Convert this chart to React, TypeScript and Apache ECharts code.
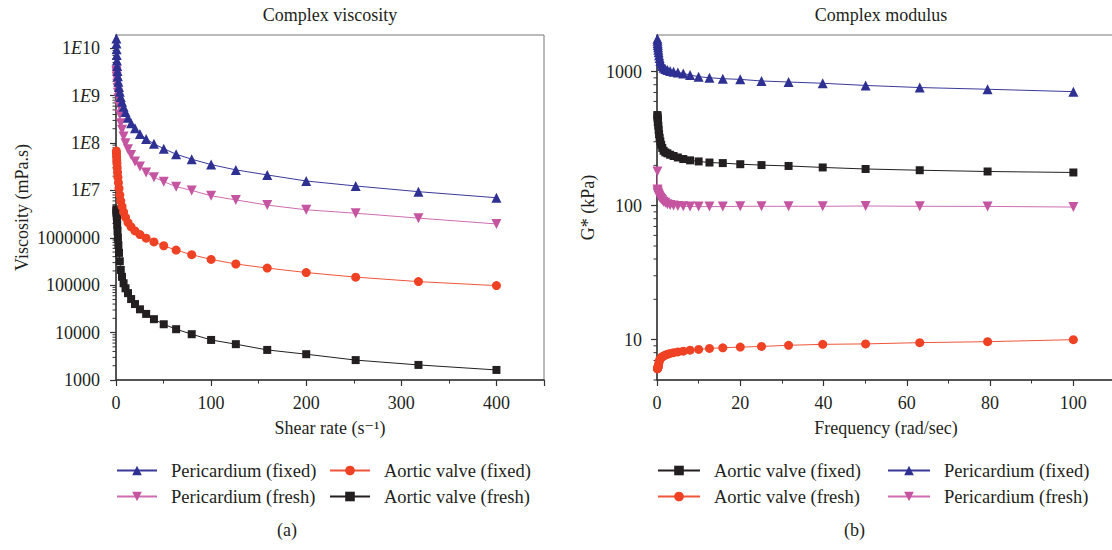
import React, { useEffect, useRef } from 'react';
import * as echarts from 'echarts';

// ---------- data ----------
const shearRate = [0.4, 0.5, 0.63, 0.8, 1, 1.26, 1.59, 2, 2.52, 3.17, 4, 5.02, 6.32, 7.96, 10, 12.6, 15.9, 20, 25.2, 31.7, 39.9, 50.2, 63.2, 79.6, 100, 126, 159, 200, 252, 318, 400];
const viscPeriFixed = [1.6e10, 1.25e10, 9.5e9, 7.2e9, 5.5e9, 4.2e9, 3.3e9, 2.55e9, 1.95e9, 1.52e9, 1.2e9, 9.4e8, 7.4e8, 5.8e8, 4.5e8, 3.4e8, 2.6e8, 2.04e8, 1.55e8, 1.22e8, 9.6e7, 7.6e7, 5.8e7, 4.55e7, 3.5e7, 2.71e7, 2.12e7, 1.58e7, 1.24e7, 9.4e6, 7.0e6];
const viscPeriFresh = [3.4e9, 3.1e9, 2.8e9, 2.5e9, 2.2e9, 1.8e9, 1.45e9, 1.15e9, 8.8e8, 6.2e8, 4.0e8, 2.6e8, 1.9e8, 1.37e8, 9.9e7, 7.4e7, 5.6e7, 4.05e7, 3.2e7, 2.4e7, 1.9e7, 1.53e7, 1.2e7, 1.0e7, 7.7e6, 6.3e6, 4.9e6, 3.9e6, 3.3e6, 2.6e6, 1.96e6];
const viscAorticFixed = [6.8e7, 6.0e7, 5.2e7, 4.4e7, 3.7e7, 3.0e7, 2.4e7, 1.9e7, 1.45e7, 1.1e7, 8.0e6, 6.0e6, 4.6e6, 3.5e6, 2.7e6, 2.1e6, 1.7e6, 1.4e6, 1.17e6, 9.8e5, 8.2e5, 6.8e5, 5.5e5, 4.4e5, 3.5e5, 2.8e5, 2.3e5, 1.85e5, 1.48e5, 1.19e5, 9.8e4];
const viscAorticFresh = [4.0e6, 3.7e6, 3.3e6, 2.9e6, 2.4e6, 1.9e6, 1.4e6, 1.0e6, 7.0e5, 4.8e5, 3.2e5, 2.1e5, 1.5e5, 1.1e5, 8.6e4, 6.8e4, 5.1e4, 4.0e4, 3.1e4, 2.48e4, 1.92e4, 1.5e4, 1.18e4, 9250, 7000, 5700, 4310, 3500, 2630, 2080, 1630];

const frequency = [0.1, 0.126, 0.158, 0.2, 0.251, 0.316, 0.398, 0.501, 0.631, 0.794, 1, 1.26, 1.58, 2, 2.51, 3.16, 3.98, 5.01, 6.31, 7.94, 10, 12.6, 15.8, 20, 25.1, 31.6, 39.8, 50.1, 63.1, 79.4, 100];
const modAorticFixed = [475, 462, 448, 435, 420, 395, 368, 342, 321, 302, 285, 270, 257, 250, 246, 240, 235, 229, 223, 218, 214, 210, 208, 204, 201, 198, 193, 188, 184, 180, 177];
const modPeriFixed = [1760, 1700, 1640, 1580, 1520, 1460, 1400, 1330, 1265, 1200, 1145, 1105, 1072, 1050, 1030, 1012, 1000, 988, 970, 945, 918, 902, 887, 877, 853, 838, 820, 790, 762, 740, 710];
const modAorticFresh = [6.05, 6.1, 6.15, 6.2, 6.25, 6.3, 6.55, 6.8, 7.05, 7.2, 7.33, 7.46, 7.54, 7.67, 7.77, 7.9, 8.0, 8.1, 8.2, 8.35, 8.45, 8.6, 8.7, 8.8, 8.9, 9.08, 9.23, 9.3, 9.5, 9.66, 10.0];
const modPeriFresh = [180, 132, 128, 125, 123, 122, 120, 118, 116, 114, 112, 110, 107, 105, 102.5, 101.3, 100.5, 99.5, 99, 98.5, 98.5, 98.5, 98.5, 99, 99, 99, 99, 99.5, 99, 98.8, 97.7];

// log-axis minor tick positions
const minorMantissas = [2, 3, 4, 5, 6, 7, 8, 9];
const viscDecades = [1e3, 1e4, 1e5, 1e6, 1e7, 1e8, 1e9];
const modMinorTicks = [5, 6, 7, 8, 9, 20, 30, 40, 50, 60, 70, 80, 90, 200, 300, 400, 500, 600, 700, 800, 900];

const BLUE = '#2e3192';
const BLUE_LINE = '#3a3a9a';
const PINK = '#c554a1';
const PINK_LINE = '#cf6cb0';
const RED = '#ef4123';
const RED_LINE = '#f0553a';
const INK = '#231f20';
const AXIS = '#333333';
const SERIF = '"Liberation Serif", "Times New Roman", "DejaVu Serif", serif';
const TICK_FS = 18;
const NAME_FS = 18;
const LEGEND_FS = 18.5;

function lineSeries(name: string, xs: number[], ys: number[], color: string, lineColor: string, symbol: string, size: number, rotate: number, idx: number) {
  return {
    type: 'line',
    name,
    xAxisIndex: idx,
    yAxisIndex: idx,
    data: xs.map((x, i) => [x, ys[i]]),
    symbol,
    symbolSize: size,
    symbolRotate: rotate,
    showSymbol: true,
    lineStyle: { color: lineColor, width: 1 },
    itemStyle: { color, borderWidth: 0 },
    emphasis: { disabled: true },
    silent: true,
  };
}

function minorTickSeries(values: number[], idx: number) {
  return {
    type: 'custom',
    xAxisIndex: idx,
    yAxisIndex: idx,
    silent: true,
    data: values.map((v) => [0, v]),
    renderItem: (_p: any, api: any) => {
      const pt = api.coord([0, api.value(1)]);
      return {
        type: 'line',
        shape: { x1: pt[0] - 3.5, y1: pt[1], x2: pt[0], y2: pt[1] },
        style: { stroke: AXIS, lineWidth: 1 },
      };
    },
  };
}

function xAxis(idx: number, max: number, interval: number, name: string) {
  return {
    type: 'value',
    gridIndex: idx,
    min: 0,
    max,
    interval,
    name,
    nameLocation: 'middle',
    nameGap: 39,
    nameTextStyle: { fontFamily: SERIF, fontSize: NAME_FS, color: INK },
    axisLine: { show: true, onZero: false, lineStyle: { color: AXIS, width: 1.5 } },
    axisTick: { show: true, length: 6, lineStyle: { color: AXIS, width: 1.2 } },
    minorTick: { show: true, splitNumber: 2, length: 3.5, lineStyle: { color: AXIS, width: 1 } },
    splitLine: { show: false },
    minorSplitLine: { show: false },
    axisLabel: { margin: 14, fontFamily: SERIF, fontSize: TICK_FS, color: INK, showMaxLabel: false },
  };
}

const fmtVisc = (v: number) => {
  const e = Math.round(Math.log10(v));
  if (e >= 7) return '1{e|E}' + e;
  return String(Math.round(v));
};

const legendBase = {
  orient: 'horizontal',
  padding: 0,
  itemHeight: 12,
  itemGap: 0,
  selectedMode: false,
  textStyle: { fontFamily: SERIF, fontSize: LEGEND_FS, color: INK, padding: [0, 0, 0, 9] },
  formatter: (n: string) => n.replace(/^[ab]:/, ''),
};

export default function App() {
  const ref = useRef<HTMLDivElement>(null);
  useEffect(() => {
    if (!ref.current) return;
    const chart = echarts.init(ref.current, null, { renderer: 'svg' });
    const option: any = {
      animation: false,
      backgroundColor: '#ffffff',
      title: [
        { text: 'Complex viscosity', left: 330, top: 6, textAlign: 'center', padding: 0, textStyle: { fontFamily: SERIF, fontSize: 18, fontWeight: 'normal', color: INK } },
        { text: 'Complex modulus', left: 881, top: 6, textAlign: 'center', padding: 0, textStyle: { fontFamily: SERIF, fontSize: 18, fontWeight: 'normal', color: INK } },
      ],
      grid: [
        { left: 116, top: 35, width: 428, height: 345, show: true, borderColor: '#777', borderWidth: 1, backgroundColor: 'transparent', outerBoundsMode: 'none', containLabel: false },
        { left: 657, top: 35, width: 458, height: 345, show: true, borderColor: '#777', borderWidth: 1, backgroundColor: 'transparent', outerBoundsMode: 'none', containLabel: false },
      ],
      xAxis: [
        xAxis(0, 450, 100, 'Shear rate (s\u207B\u00B9)'),
        xAxis(1, 110, 20, 'Frequency (rad/sec)'),
      ],
      yAxis: [
        {
          type: 'log', logBase: 10, gridIndex: 0, min: 1000, max: 1.9e10,
          name: 'Viscosity (mPa.s)', nameLocation: 'middle', nameGap: 85,
          nameTextStyle: { fontFamily: SERIF, fontSize: NAME_FS, color: INK },
          axisLine: { show: true, onZero: false, lineStyle: { color: AXIS, width: 1.5 } },
          axisTick: { show: true, length: 6, lineStyle: { color: AXIS, width: 1.2 } },
          minorTick: { show: false },
          splitLine: { show: false },
          axisLabel: {
            margin: 16, fontFamily: SERIF, fontSize: TICK_FS, color: INK, showMaxLabel: false,
            formatter: fmtVisc,
            rich: { e: { fontStyle: 'italic', fontFamily: SERIF, fontSize: TICK_FS, color: INK } },
          },
        },
        {
          type: 'log', logBase: 10, gridIndex: 1, min: 5, max: 1880,
          name: 'G* (kPa)', nameLocation: 'middle', nameGap: 60,
          nameTextStyle: { fontFamily: SERIF, fontSize: NAME_FS, color: INK },
          axisLine: { show: true, onZero: false, lineStyle: { color: AXIS, width: 1.5 } },
          axisTick: { show: true, length: 6, lineStyle: { color: AXIS, width: 1.2 } },
          minorTick: { show: false },
          splitLine: { show: false },
          axisLabel: {
            margin: 15, fontFamily: SERIF, fontSize: TICK_FS, color: INK, showMaxLabel: false, showMinLabel: false,
            formatter: (v: number) => String(Math.round(v)),
          },
        },
      ],
      legend: [
        { ...legendBase, itemWidth: 40, data: ['a:Pericardium (fixed)'], left: 116, top: 461 },
        { ...legendBase, itemWidth: 40, data: ['a:Aortic valve (fixed)'], left: 329, top: 461 },
        { ...legendBase, itemWidth: 40, data: ['a:Pericardium (fresh)'], left: 116, top: 487 },
        { ...legendBase, itemWidth: 40, data: ['a:Aortic valve (fresh)'], left: 329, top: 487 },
        { ...legendBase, itemWidth: 42, data: ['b:Aortic valve (fixed)'], left: 657, top: 461 },
        { ...legendBase, itemWidth: 42, data: ['b:Pericardium (fixed)'], left: 887, top: 461 },
        { ...legendBase, itemWidth: 42, data: ['b:Aortic valve (fresh)'], left: 657, top: 487 },
        { ...legendBase, itemWidth: 42, data: ['b:Pericardium (fresh)'], left: 887, top: 487 },
      ],
      graphic: [
        { type: 'text', left: 277, top: 521, style: { text: '(a)', fontFamily: SERIF, fontSize: 18, fill: INK, textAlign: 'center' } },
        { type: 'text', left: 844, top: 521, style: { text: '(b)', fontFamily: SERIF, fontSize: 18, fill: INK, textAlign: 'center' } },
      ],
      series: [
        minorTickSeries(viscDecades.flatMap((d) => minorMantissas.map((m) => m * d)), 0),
        minorTickSeries(modMinorTicks, 1),
        lineSeries('a:Aortic valve (fresh)', shearRate, viscAorticFresh, INK, INK, 'rect', 8, 0, 0),
        lineSeries('a:Aortic valve (fixed)', shearRate, viscAorticFixed, RED, RED_LINE, 'circle', 9, 0, 0),
        lineSeries('a:Pericardium (fresh)', shearRate, viscPeriFresh, PINK, PINK_LINE, 'triangle', 10, 180, 0),
        lineSeries('a:Pericardium (fixed)', shearRate, viscPeriFixed, BLUE, BLUE_LINE, 'triangle', 10, 0, 0),
        lineSeries('b:Aortic valve (fresh)', frequency, modAorticFresh, RED, RED_LINE, 'circle', 9, 0, 1),
        lineSeries('b:Pericardium (fresh)', frequency, modPeriFresh, PINK, PINK_LINE, 'triangle', 10, 180, 1),
        lineSeries('b:Aortic valve (fixed)', frequency, modAorticFixed, INK, INK, 'rect', 8, 0, 1),
        lineSeries('b:Pericardium (fixed)', frequency, modPeriFixed, BLUE, BLUE_LINE, 'triangle', 10, 0, 1),
      ],
    };
    chart.setOption(option);
    return () => chart.dispose();
  }, []);
  return <div ref={ref} style={{ position: 'absolute', left: 0, top: 0, width: 1112, height: 550 }} />;
}
